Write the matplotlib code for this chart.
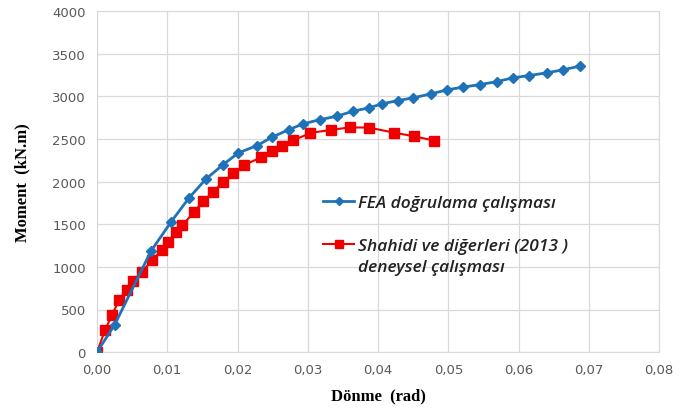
import matplotlib.pyplot as plt
from matplotlib.ticker import FuncFormatter
from matplotlib.legend_handler import HandlerLine2D

# FEA dogrulama (blue diamonds)
fea_x = [0.0, 0.0025, 0.00768, 0.01053, 0.01309, 0.0155, 0.0179, 0.0201, 0.02276, 0.02489,
         0.02731, 0.0293, 0.03172, 0.03414, 0.03641, 0.03869, 0.04054, 0.04282, 0.04495,
         0.04751, 0.04979, 0.05206, 0.05448, 0.0569, 0.05917, 0.06145, 0.06401, 0.06629, 0.0687]
fea_y = [0, 320, 1185, 1526, 1808, 2030, 2195, 2336, 2421, 2520,
         2609, 2676, 2726, 2766, 2825, 2864, 2911, 2950, 2981,
         3028, 3075, 3107, 3137, 3172, 3216, 3243, 3275, 3310, 3353]

# Shahidi ve digerleri (2013) deneysel (red squares)
exp_x = [0.0, 0.00114, 0.00213, 0.00313, 0.0042, 0.0051, 0.00644, 0.00787, 0.0092, 0.01014,
         0.01124, 0.01216, 0.01384, 0.01512, 0.0165, 0.01792, 0.01935, 0.02098, 0.02333,
         0.02496, 0.02632, 0.02792, 0.03037, 0.03326, 0.03599, 0.03873, 0.04222, 0.04509, 0.04801]
exp_y = [0, 258, 434, 610, 728, 830, 945, 1080, 1197, 1297,
         1403, 1485, 1649, 1769, 1878, 1992, 2095, 2195, 2283,
         2353, 2412, 2482, 2570, 2606, 2635, 2633, 2574, 2532, 2480]

fea_label = "FEA doğrulama çalışması"
exp_label = "Shahidi ve diğerleri (2013 )\ndeneysel çalışması"


class ShiftedLine(HandlerLine2D):
    # moves the handle up so it sits next to the first line of a 2-line label
    def __init__(self, shift, **kw):
        super().__init__(**kw)
        self.shift = shift

    def create_artists(self, legend, orig_handle, xdescent, ydescent, width, height, fontsize, trans):
        arts = super().create_artists(legend, orig_handle, xdescent, ydescent, width, height, fontsize, trans)
        for a in arts:
            y = a.get_ydata()
            a.set_ydata([v + self.shift for v in y])
        return arts


fig = plt.figure(figsize=(6.88, 4.14), dpi=100)
ax = fig.add_axes([0.141, 0.147, 0.817, 0.824])

l1, = ax.plot(fea_x, fea_y, color="#1f72b8", lw=2, marker="D", ms=5.5, label=fea_label, zorder=3)
l2, = ax.plot(exp_x, exp_y, color="#ee0000", lw=1.5, marker="s", ms=7.5, label=exp_label, zorder=2)

ax.set_xlim(0, 0.08)
ax.set_ylim(0, 4000)
ax.set_xticks([i * 0.01 for i in range(9)])
ax.set_yticks(range(0, 4001, 500))
ax.xaxis.set_major_formatter(FuncFormatter(lambda v, p: f"{v:.2f}".replace(".", ",")))
ax.grid(True, color="#d9d9d9", lw=0.9)
ax.set_axisbelow(True)
for s in ax.spines.values():
    s.set_color("#d9d9d9")
ax.tick_params(length=0, labelsize=9.5, labelcolor="#595959", pad=8)

ax.set_xlabel("Dönme  (rad)", family="Liberation Serif", fontweight="bold", fontsize=12, labelpad=8)
ax.set_ylabel("Moment  (kN.m)", family="Liberation Serif", fontweight="bold", fontsize=12, labelpad=16)

leg = ax.legend(handles=[l1, l2], loc="upper left", bbox_to_anchor=(0.402, 0.462), frameon=False,
                prop={"family": "Open Sans", "style": "italic", "weight": 600, "size": 12.5},
                handlelength=1.8, labelspacing=1.6, handletextpad=0.2, markerscale=0.8,
                borderpad=0, borderaxespad=0,
                handler_map={l2: ShiftedLine(shift=9.5)})
for t in leg.get_texts():
    t.set_color("#222222")
    t.set_linespacing(1.4)

fig.savefig("out.png", dpi=100)
